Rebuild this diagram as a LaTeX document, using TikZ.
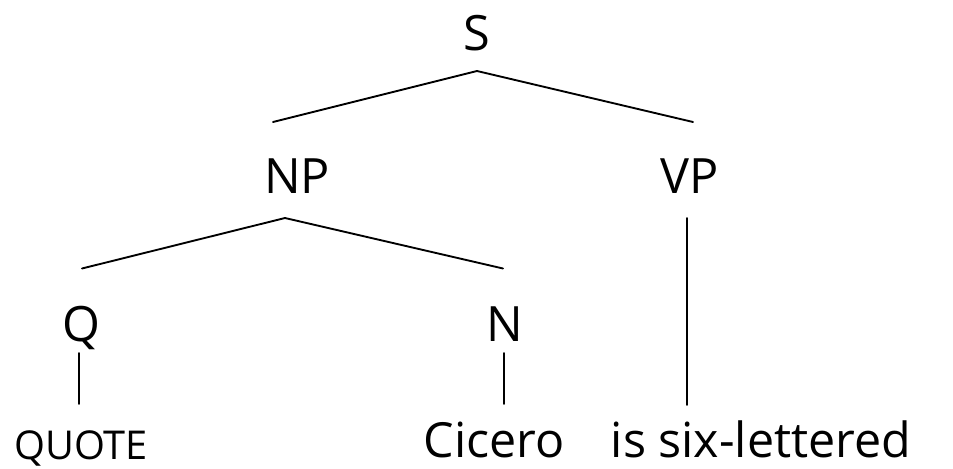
\documentclass[tikz,border=0pt]{standalone}
\usepackage{fontspec}
\setmainfont{Open Sans}
\begin{document}
\begin{tikzpicture}[x=0.75pt,y=-0.75pt,
  lbl/.style={inner sep=0pt,anchor=base,font=\fontsize{36.5}{40}\selectfont},
  word/.style={inner sep=0pt,anchor=base,font=\fontsize{36.3}{40}\selectfont},
  small/.style={inner sep=0pt,anchor=base,font=\fontsize{29.8}{32}\selectfont},
  edge/.style={line width=1.4pt,line cap=round}]
\useasboundingbox (0,0) rectangle (953,468);
% labels
\node[lbl] (S) at (477,50) {S};
\node[lbl] (NP) at (297,193) {NP};
\node[lbl] (VP) at (690,193.5) {VP};
\node[lbl] (Q) at (81,341.5) {Q};
\node[lbl] (N) at (505,341) {N};
\node[small] (quote) at (81,459) {QUOTE};
\node[word] (cicero) at (494,457) {Cicero};
\node[word] (six) at (761,457) {is six-lettered};
% connector end points
\coordinate (Sb) at (477,71);
\coordinate (NPt) at (273,122);
\coordinate (VPt) at (693,122);
\coordinate (NPb) at (285,218);
\coordinate (Qt) at (82,268.5);
\coordinate (Nt) at (503,268.5);
\coordinate (VPb) at (687,218);
\coordinate (sixt) at (687,405);
\coordinate (Qb) at (79,353);
\coordinate (quotet) at (79,404);
\coordinate (Nb) at (504,353);
\coordinate (cicerot) at (504,404);
% connectors
\draw[edge] (NPt) -- (Sb) -- (VPt);
\draw[edge] (Qt) -- (NPb) -- (Nt);
\draw[edge] (VPb) -- (sixt);
\draw[edge] (Qb) -- (quotet);
\draw[edge] (Nb) -- (cicerot);
\end{tikzpicture}
\end{document}
